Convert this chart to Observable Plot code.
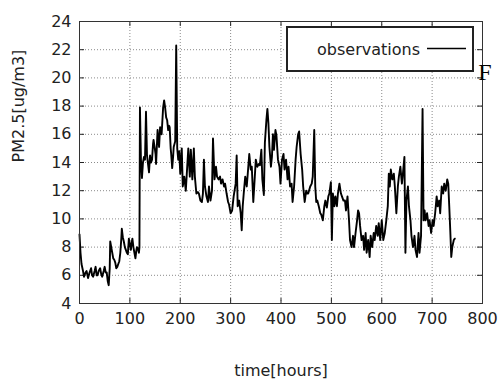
<!DOCTYPE html>
<html>
<head>
<meta charset="utf-8">
<script src="https://cdn.jsdelivr.net/npm/d3@7"></script>
<script src="https://cdn.jsdelivr.net/npm/@observablehq/plot@0.6"></script>
<style>
  html, body { margin: 0; padding: 0; background: #fff; }
  #chart { width: 501px; height: 379px; overflow: hidden; }
</style>
</head>
<body>
<div id="chart"></div>
<script>
// Time in hours and PM2.5 observations
const hours = [0,2,4,7,9,12,14,17,20,23,25,27,30,32,34,36,38,41,43,45,48,50,52,54,56,58,60,61,63,65,67,69,71,73,75,77,79,81,83,84,86,88,90,92,94,96,98,100,102,104,105,107,109,111,113,114,116,118,119,120,122,124,126,128,130,132,134,136,138,140,142,144,146,147,149,151,152,155,157,158,160,163,166,168,170,172,174,176,178,179,181,182,184,186,187,190,192,194,196,198,200,203,205,208,211,213,216,219,221,224,227,229,232,235,237,240,243,245,247,249,252,255,257,260,263,265,268,271,273,276,279,281,284,287,289,292,295,297,300,303,306,310,312,314,317,320,322,324,326,329,332,334,337,340,342,345,348,350,353,356,358,361,363,366,368,371,373,375,377,380,382,384,386,389,391,394,397,399,402,405,407,410,413,415,418,421,423,426,429,431,434,436,439,442,444,447,450,452,454,458,461,463,466,468,470,472,475,478,480,483,486,488,491,494,496,499,501,503,506,508,511,513,516,519,521,524,527,529,532,535,537,540,543,545,548,551,553,555,557,560,563,565,568,570,573,576,578,581,584,586,589,592,594,597,600,602,603,606,609,612,614,616,618,621,624,626,629,632,634,637,640,642,645,647,649,652,654,657,659,662,665,667,670,673,675,678,681,683,685,687,690,693,695,698,701,703,706,709,711,714,716,719,722,724,727,730,732,734,736,738,740,743,745];
const pm25 = [8.9,7.6,6.8,6.3,5.9,6.2,6.3,5.8,6.2,6.5,6.0,5.9,6.3,6.6,6.0,6.0,6.3,6.5,6.1,5.9,6.3,6.6,6.2,6.2,5.6,5.3,6.5,8.4,8.0,7.6,7.2,7.1,6.9,6.5,6.6,6.8,7.0,7.6,8.6,9.3,8.7,8.4,8.0,7.8,7.6,7.5,8.6,8.2,7.8,8.4,8.6,8.0,7.6,7.2,7.8,8.0,7.9,7.6,8.0,17.9,14.2,12.9,14.0,14.4,14.2,17.6,14.5,13.9,13.3,14.5,14.0,14.2,15.3,15.6,15.1,14.6,13.9,16.3,15.4,15.1,16.5,16.0,17.9,18.4,17.9,17.2,17.0,16.3,16.6,16.5,15.0,14.6,13.6,14.5,15.1,15.5,22.3,15.0,14.2,14.8,13.2,15.0,12.3,13.0,12.0,13.2,15.0,13.0,14.9,12.8,15.0,13.0,11.8,11.9,11.8,11.3,11.2,11.8,14.2,12.3,11.6,11.2,12.3,11.3,12.0,15.7,12.8,13.7,13.0,12.8,13.0,12.5,12.8,12.3,12.5,11.8,11.2,11.0,10.4,10.6,11.6,12.5,14.5,10.9,11.3,10.4,9.2,10.9,11.8,13.0,12.3,13.2,14.6,13.5,13.7,11.2,13.0,14.2,13.7,13.9,13.8,14.9,12.8,11.7,15.4,17.0,17.8,16.8,15.1,13.7,14.4,16.0,14.9,16.3,15.9,14.2,13.7,12.5,14.2,14.6,13.5,14.2,12.8,13.7,12.3,12.5,11.2,12.3,14.2,15.1,16.0,16.2,14.6,13.5,12.3,11.2,12.0,11.8,11.8,12.3,12.5,13.0,16.3,12.3,11.2,11.3,10.9,10.4,10.3,9.9,10.9,11.3,10.8,11.6,11.8,12.6,8.5,11.8,10.9,11.6,10.9,11.8,12.5,11.8,11.6,11.3,11.3,10.6,11.6,9.9,8.5,8.0,8.8,8.0,9.0,9.9,10.6,10.4,9.5,8.5,8.8,7.8,9.0,7.6,8.5,7.3,8.8,8.0,9.0,8.5,9.5,8.8,9.7,8.5,9.9,9.0,8.5,9.0,9.9,10.9,13.2,12.3,13.5,12.8,13.2,12.3,10.4,12.3,13.0,13.7,12.5,13.2,14.4,7.6,11.3,12.3,10.9,9.9,8.8,8.0,8.8,7.8,7.3,9.0,7.6,8.8,17.8,9.9,10.6,9.9,10.4,9.5,9.9,9.0,9.9,9.5,10.4,11.6,10.9,11.3,10.4,12.3,11.8,12.5,12.0,12.8,12.5,10.9,9.2,7.3,8.0,8.5,8.6];
const xTicks = [0, 100, 200, 300, 400, 500, 600, 700, 800];
const yTicks = [4, 6, 8, 10, 12, 14, 16, 18, 20, 22, 24];
const xLabel = "time[hours]";
const yLabel = "PM2.5[ug/m3]";
const seriesName = "observations";

const data = hours.map((h, i) => ({hour: h, value: pm25[i]}));

const W = 501, H = 379;
const mL = 79, mR = 19, mT = 21, mB = 76;
// tick length of 5px, converted into data units of each scale
const tickPx = 5;
const xPerPx = (xTicks[xTicks.length - 1] - xTicks[0]) / (W - mL - mR);
const yPerPx = (yTicks[yTicks.length - 1] - yTicks[0]) / (H - mT - mB);
const x0 = xTicks[0], x1 = xTicks[xTicks.length - 1];
const y0 = yTicks[0], y1 = yTicks[yTicks.length - 1];

const gridStyle = {stroke: "#8a8a8a", strokeOpacity: 1, strokeWidth: 1, strokeDasharray: "1,2"};

const plot = Plot.plot({
  width: W, height: H,
  marginLeft: mL, marginRight: mR, marginTop: mT, marginBottom: mB,
  style: {fontFamily: "'DejaVu Sans', sans-serif", fontSize: "16px", background: "#fff", color: "#222"},
  x: {domain: [x0, x1], label: null},
  y: {domain: [y0, y1], label: null},
  marks: [
    Plot.ruleX(xTicks.slice(1, -1), {...gridStyle}),
    Plot.ruleY(yTicks.slice(1, -1), {...gridStyle}),
    // inward tick marks, mirrored on all four sides
    Plot.ruleX(xTicks, {y1: y0, y2: y0 + tickPx * yPerPx, stroke: "#222"}),
    Plot.ruleX(xTicks, {y1: y1, y2: y1 - tickPx * yPerPx, stroke: "#222"}),
    Plot.ruleY(yTicks, {x1: x0, x2: x0 + tickPx * xPerPx, stroke: "#222"}),
    Plot.ruleY(yTicks, {x1: x1, x2: x1 - tickPx * xPerPx, stroke: "#222"}),
    Plot.axisX(xTicks, {tickSize: 0, tickPadding: 9, fill: "#222"}),
    Plot.axisY(yTicks, {tickSize: 0, tickPadding: 8, fill: "#222"}),
    Plot.line(data, {x: "hour", y: "value", stroke: "#000", strokeWidth: 1.9}),
    Plot.frame({stroke: "#333", strokeWidth: 1}),
    Plot.text([xLabel], {frameAnchor: "bottom", dy: 67, lineAnchor: "middle", fill: "#222"}),
    Plot.text([yLabel], {frameAnchor: "left", dx: -61, rotate: -90, fill: "#222"})
  ]
});

document.getElementById("chart").appendChild(plot);

// legend box (gnuplot style, top right inside the plot)
const svg = d3.select(plot);
const lg = svg.append("g").attr("class", "legend");
lg.append("rect").attr("x", 287).attr("y", 27).attr("width", 186).attr("height", 44)
  .attr("fill", "#fff").attr("stroke", "#222").attr("stroke-width", 2);
lg.append("text").attr("x", 420).attr("y", 49).attr("dy", "0.35em")
  .attr("text-anchor", "end").attr("fill", "#222")
  .style("font-family", "'DejaVu Sans', sans-serif").style("font-size", "16px")
  .text(seriesName);
lg.append("line").attr("x1", 427).attr("x2", 466).attr("y1", 48.5).attr("y2", 48.5)
  .attr("stroke", "#000").attr("stroke-width", 1.6);
// stray letter from the surrounding document, kept fully inside the picture
svg.append("text").attr("x", 485).attr("y", 80).attr("fill", "#000")
  .style("font-family", "'Liberation Serif', serif").style("font-size", "24px")
  .text("F");
</script>
</body>
</html>
